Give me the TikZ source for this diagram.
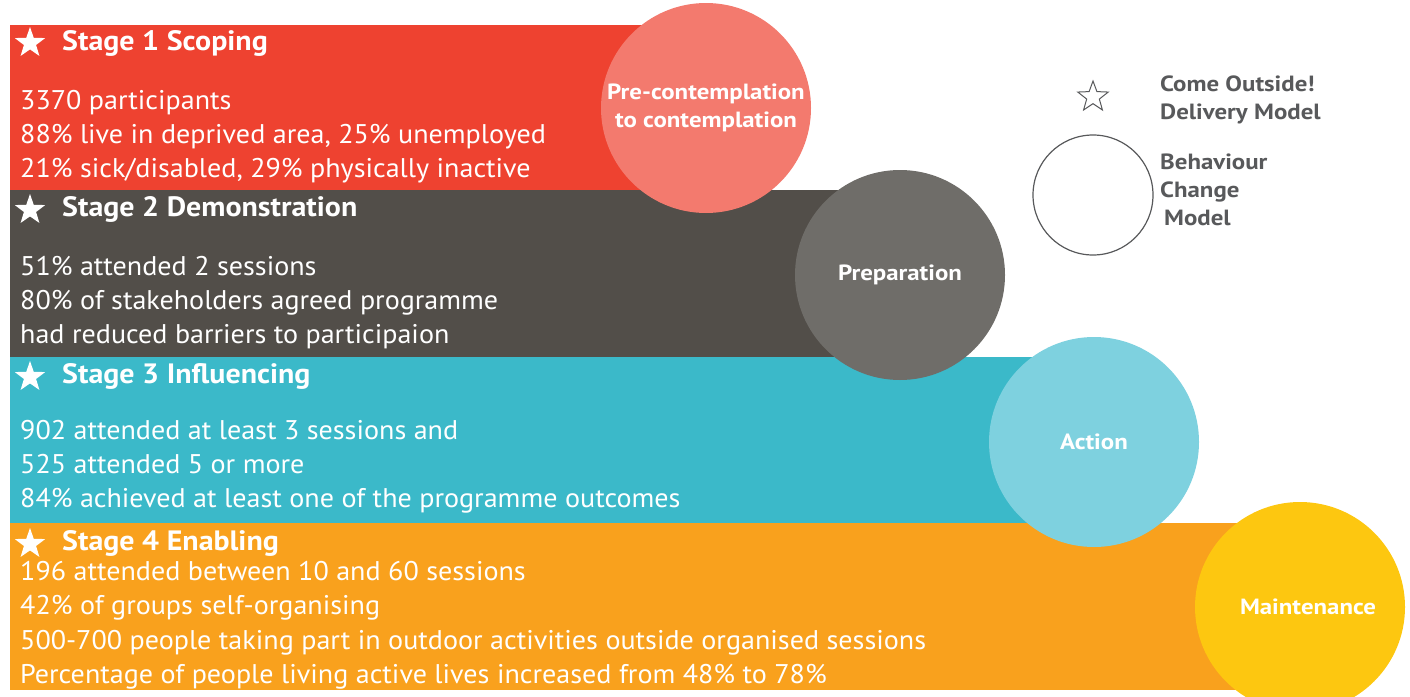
\documentclass[tikz,border=0pt]{standalone}
\usepackage{fontspec}
\setmainfont{PT Sans}
\newfontfamily\factfont[FakeStretch=1.04]{PT Sans}
\newfontfamily\headfont[FakeStretch=1.07]{PT Sans}
\newfontfamily\circfont[FakeStretch=1.13]{PT Sans}
\usepackage{tikz}
\usetikzlibrary{shapes.geometric, positioning}

\definecolor{scopered}{HTML}{EE4230}
\definecolor{scopecirc}{HTML}{F37A6E}
\definecolor{demogray}{HTML}{524E49}
\definecolor{democirc}{HTML}{6F6D69}
\definecolor{inflteal}{HTML}{3BB9C9}
\definecolor{inflcirc}{HTML}{7ED1DF}
\definecolor{enabor}{HTML}{F9A11D}
\definecolor{enabcirc}{HTML}{FDC710}
\definecolor{legendgray}{HTML}{58595B}

\tikzset{
  stagecircle/.style={circle, fill=#1, minimum size=210pt, inner sep=0pt, text=white,
    align=center, font=\circfont\bfseries\fontsize{22}{28}\selectfont},
  stagehead/.style={anchor=base west, inner sep=0pt, text=white, font=\headfont\bfseries\fontsize{28}{30}\selectfont},
  factline/.style={anchor=base west, inner sep=0pt, text=white, font=\factfont\fontsize{27}{30}\selectfont},
  stagestar/.style={star, star points=5, star point ratio=2.5, fill=white, minimum size=32pt, inner sep=0pt},
  legendtext/.style={anchor=west, inner sep=0pt, text=legendgray, align=left,
    font=\circfont\bfseries\fontsize{22}{28}\selectfont}
}

\begin{document}
\begin{tikzpicture}[x=1pt, y=-1pt]
\useasboundingbox (0,0) rectangle (1410,696);

% bands
\fill [scopered] (10,25) rectangle (706,190);
\fill [demogray] (10,190) rectangle (900,357);
\fill [inflteal] (10,357) rectangle (1094,523);
\fill [enabor] (10,523) rectangle (1300,690);

% stage 1
\node [stagestar] (star1) at (30,43) {};
\node [stagehead] (head1) at (62,50) {Stage 1 Scoping};
\node [factline] (s1a) at (20,109) {3370 participants};
\node [factline] (s1b) at (20,143) {88\% live in deprived area, 25\% unemployed};
\node [factline] (s1c) at (20,177) {21\% sick/disabled, 29\% physically inactive};

% stage 2
\node [stagestar] (star2) at (30,210) {};
\node [stagehead] (head2) at (62,216) {Stage 2 Demonstration};
\node [factline] (s2a) at (20,275) {51\% attended 2 sessions};
\node [factline] (s2b) at (20,309) {80\% of stakeholders agreed programme};
\node [factline] (s2c) at (20,343) {had reduced barriers to participaion};

% stage 3
\node [stagestar] (star3) at (30,377) {};
\node [stagehead] (head3) at (62,383) {Stage 3 Influencing};
\node [factline] (s3a) at (20,439) {902 attended at least 3 sessions and};
\node [factline] (s3b) at (20,473) {525 attended 5 or more};
\node [factline] (s3c) at (20,507) {84\% achieved at least one of the programme outcomes};

% stage 4
\node [stagestar] (star4) at (30,544) {};
\node [stagehead] (head4) at (62,550) {Stage 4 Enabling};
\node [factline] (s4a) at (20,580) {196 attended between 10 and 60 sessions};
\node [factline] (s4b) at (20,614) {42\% of groups self-organising};
\node [factline] (s4c) at (20,649) {500-700 people taking part in outdoor activities outside organised sessions};
\node [factline] (s4d) at (20,683) {Percentage of people living active lives increased from 48\% to 78\%};

% behaviour change circles
\node [stagecircle=scopecirc] (precon) at (706,108) {Pre-contemplation\\to contemplation};
\node [stagecircle=democirc] (prep) at (900,275) {Preparation};
\node [stagecircle=inflcirc] (action) at (1094,442) {Action};
\node [stagecircle=enabcirc] (maint) at (1300,607) {\hspace*{16pt}Maintenance};

% legend
\node [star, star points=5, star point ratio=2.4, draw=legendgray, line width=1pt,
  minimum size=32pt, inner sep=0pt] (keystar) at (1093,97) {};
\node [circle, draw=legendgray, line width=1.2pt, minimum size=120pt, inner sep=0pt] (keycirc) at (1093,195) {};
\node [legendtext] (keystartxt) at (1160,99.5) {Come Outside!\\Delivery Model};
\node [legendtext] (keycirctxt) at (1160,190) {Behaviour\\Change\\\hspace*{4pt}Model};
\end{tikzpicture}
\end{document}
